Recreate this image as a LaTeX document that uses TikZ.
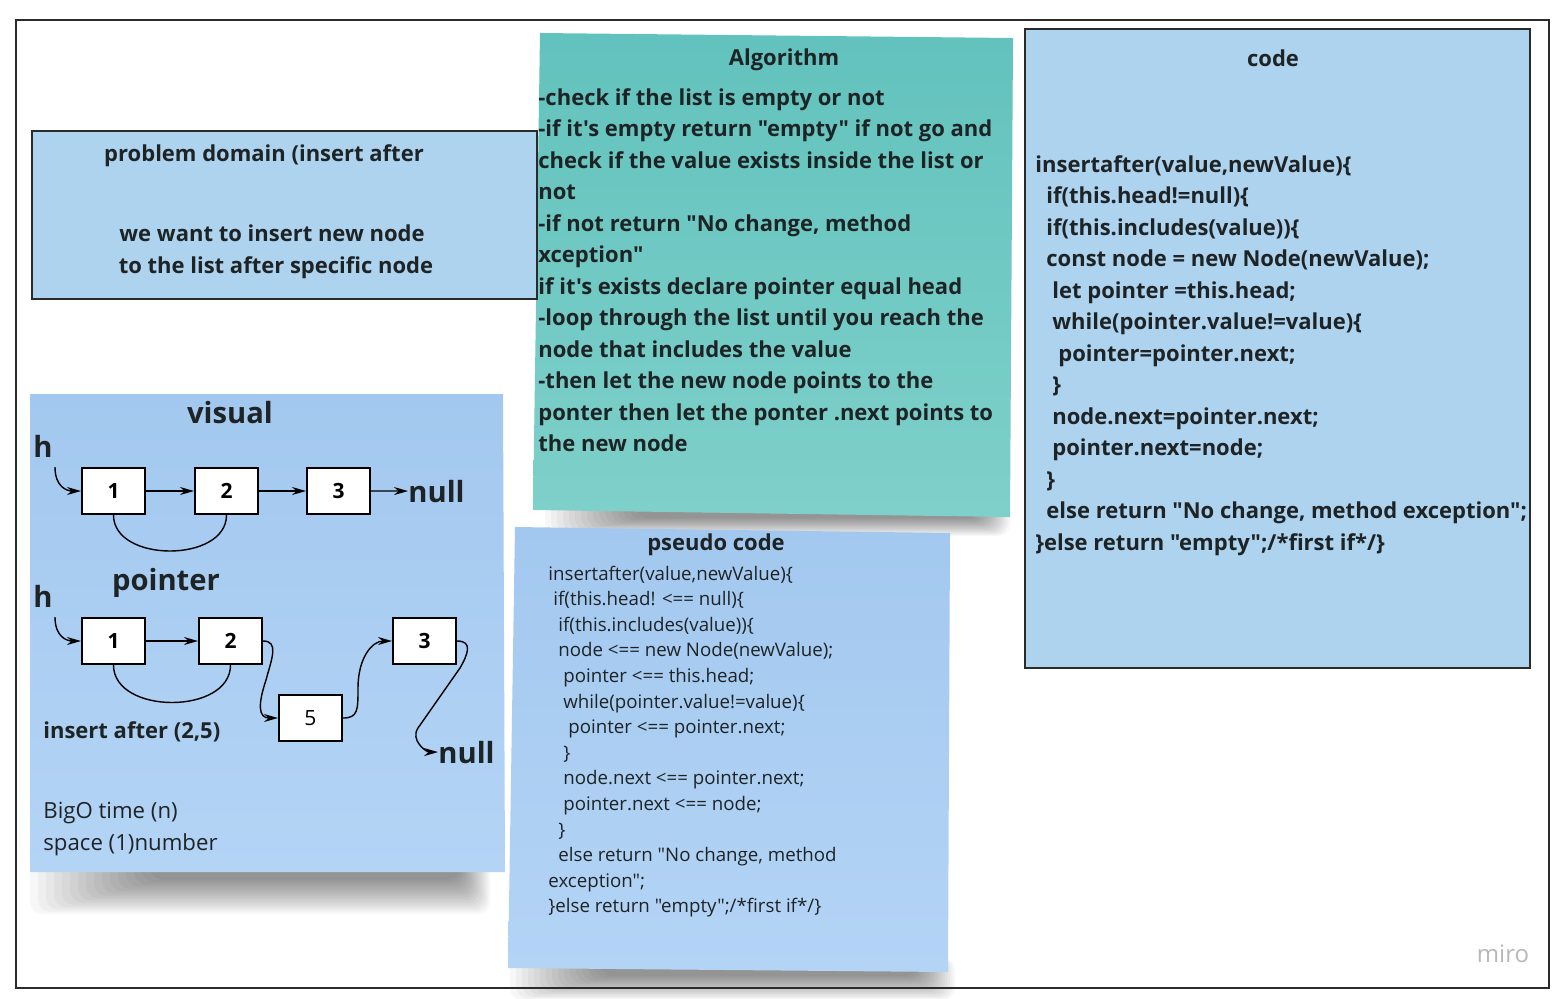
\documentclass[tikz,border=0pt]{standalone}
\usepackage{fontspec}
\setmainfont{Open Sans}[Ligatures=TeXOff]
\usepackage{tikz}
\usetikzlibrary{
    arrows.meta,
    positioning,
    calc
}
\definecolor{ink}{HTML}{1E2426}
\definecolor{framegray}{HTML}{2B2B2B}
\definecolor{paneblue}{HTML}{AED3EF}
\definecolor{noteblueA}{HTML}{A3C8EF}
\definecolor{noteblueB}{HTML}{B3D4F5}
\definecolor{tealA}{HTML}{62C2BD}
\definecolor{tealB}{HTML}{7FD0CA}
\definecolor{mirogray}{HTML}{B8B8B8}

\begin{document}
\begin{tikzpicture}[
    x=0.5pt, y=-0.5pt,
    pane/.style={draw=framegray, line width=1pt, fill=paneblue},
    shadowlayer/.style={fill=black, opacity=0.032, rounded corners=6pt},
    textline/.style={inner sep=0pt, anchor=base west, text=ink},
    boldline/.style={textline, font=\bfseries\fontsize{11}{13}\selectfont},
    pseudoline/.style={textline, font=\fontsize{9.35}{11}\selectfont},
    heading/.style={inner sep=0pt, anchor=base, text=ink, font=\bfseries\fontsize{11}{13}\selectfont},
    big/.style={inner sep=0pt, text=ink, font=\bfseries\fontsize{14.6}{17}\selectfont},
    cell/.style={
        draw=black, line width=1pt, fill=white, inner sep=0pt,
        minimum width=31.5pt, minimum height=23pt,
        font=\bfseries\fontsize{10.5}{12}\selectfont
    },
    link/.style={-{Stealth[length=7pt,width=4pt]}, line width=0.7pt, black}
]

% Canvas
\useasboundingbox (0,0) rectangle (1564,998);
\fill[white] (0,0) rectangle (1564,998);

% Algorithm note
\foreach \k in {0,...,15} {
    \fill[shadowlayer] (545+6*\k, 500) rectangle (1010-2*\k, 536-1.2*\k);
}
\shade[top color=tealA, bottom color=tealB] (540,33) -- (1013,38) -- (1010,517) -- (533,510) -- cycle;

% Pseudo code note
\foreach \k in {0,...,15} {
    \fill[shadowlayer] (510+6*\k, 958) rectangle (955-2.5*\k, 1000-1.6*\k);
}
\shade[top color=noteblueA, bottom color=noteblueB] (515,527) -- (950,533) -- (948,972) -- (508,968) -- cycle;

% Visual note
\foreach \k in {0,...,15} {
    \fill[shadowlayer] (30+8*\k, 862) rectangle (490-2*\k, 914-2.3*\k);
}
\shade[top color=noteblueA, bottom color=noteblueB] (30,394) -- (503,394) -- (505,872) -- (30,872) -- cycle;

% Framed panes
\draw[pane] (32,131) rectangle (537,299);
\draw[pane] (1025,29) rectangle (1530,668);

% Problem domain
\node[heading] (pdtitle) at (264,161) {problem domain (insert after};
\node[heading] (pdline1) at (272,241) {we want to insert new node};
\node[heading] (pdline2) at (276,273) {to the list after specific node};

% Algorithm
\node[heading] (algtitle) at (784,65) {Algorithm};
\foreach \txt [count=\i] in {
    {-check if the list is empty or not},
    {-if it's empty return "empty" if not go and},
    {check if the value exists inside the list or},
    {not},
    {-if not return "No change, method},
    {xception"},
    {if it's exists declare pointer equal head},
    {-loop through the list until you reach the},
    {node that includes the value},
    {-then let the new node points to the},
    {ponter then let the ponter .next points to},
    {the new node}} {
    \node[boldline] (alg\i) at (538, 105+31.5*\i-31.5) {\txt};
}

% Code
\node[heading] (codetitle) at (1273,66) {code};
\foreach \dx/\txt [count=\i] in {
    0/{insertafter(value,newValue)\{},
    11/{if(this.head!=null)\{},
    11/{if(this.includes(value))\{},
    11/{const node = new Node(newValue);},
    17/{let pointer =this.head;},
    17/{while(pointer.value!=value)\{},
    23/{pointer=pointer.next;},
    17/{\}},
    17/{node.next=pointer.next;},
    17/{pointer.next=node;},
    11/{\}},
    11/{else return "No change, method exception";},
    0/{\}else return "empty";/*first if*/\}}} {
    \node[boldline] (code\i) at (1035+\dx, 172+31.5*\i-31.5) {\txt};
}

% Pseudo code
\node[heading] (pstitle) at (716,550) {pseudo code};
\foreach \dx/\txt [count=\i] in {
    0/{insertafter(value,newValue)\{},
    5/{if(this.head! <== null)\{},
    10/{if(this.includes(value))\{},
    10/{node <== new Node(newValue);},
    15/{pointer <== this.head;},
    15/{while(pointer.value!=value)\{},
    20/{pointer <== pointer.next;},
    15/{\}},
    15/{node.next <== pointer.next;},
    15/{pointer.next <== node;},
    10/{\}},
    10/{else return "No change, method},
    0/{exception";},
    0/{\}else return "empty";/*first if*/\}}} {
    \node[pseudoline] (ps\i) at (548+\dx, 580+25.6*\i-25.6) {\txt};
}

% Visual: plain list
\node[big, anchor=base] (vistitle) at (230,423) {visual};
\node[big, anchor=base west] (vhead) at (33,457) {h};
\coordinate (vh) at (55,467);
\node[cell] (v1) at (113.5,491) {1};
\node[cell] (v2) at (226.5,491) {2};
\node[cell] (v3) at (338.5,491) {3};
\node[big, anchor=base west] (vnull) at (408,502) {null};

\draw[link] (vh) .. controls +(0,20) and +(-14,0) .. (v1.west);
\draw[link] (v1) -- (v2);
\draw[link] (v2) -- (v3);
\draw[link] (v3) -- (vnull);
\draw[line width=0.7pt] (v1.south) .. controls +(0,48) and +(0,48) .. (v2.south);

% Visual: pointer list
\node[big, anchor=base] (ptrtitle) at (166,590) {pointer};
\node[big, anchor=base west] (phead) at (33,607) {h};
\coordinate (ph) at (55,617);
\node[cell] (p1) at (113.5,641) {1};
\node[cell] (p2) at (230.5,641) {2};
\node[cell, font=\fontsize{10.5}{12}\selectfont] (p5) at (310.5,718) {5};
\node[cell] (p3) at (424.5,641) {3};
\node[big, anchor=base west] (pnull) at (438,763) {null};

\draw[link] (ph) .. controls +(0,20) and +(-14,0) .. (p1.west);
\draw[link] (p1) -- (p2);
\draw[link] (p2.east) .. controls +(16,0) and +(6,-22) .. (266,680)
    .. controls +(-8,24) and +(-20,0) .. (p5.west);
\draw[link] (p5.east) .. controls +(15,0) and +(0,22) .. (358,688)
    .. controls +(0,-30) and +(-20,0) .. (p3.west);
\draw[link] (p3.east) .. controls +(16,0) and +(8,-14) .. (460,668)
    -- (418,728) .. controls +(-8,12) and +(-12,0) .. (pnull.west);
\draw[line width=0.7pt] (p1.south) .. controls +(0,50) and +(0,50) .. (p2.south);

\node[textline, font=\bfseries\fontsize{11}{13}\selectfont] (insert) at (43,738) {insert after (2,5)};
\node[textline, font=\fontsize{11.1}{13}\selectfont] (bigo) at (43,818) {BigO time (n)};
\node[textline, font=\fontsize{11.1}{13}\selectfont] (space) at (43,850) {space (1)number};

% Watermark
\node[inner sep=0pt, anchor=base, text=mirogray, font=\fontsize{12}{14}\selectfont] (miro) at (1503,962) {miro};

% Outer frame
\draw[framegray, line width=1pt] (16,20) rectangle (1549,988);

\end{tikzpicture}
\end{document}
